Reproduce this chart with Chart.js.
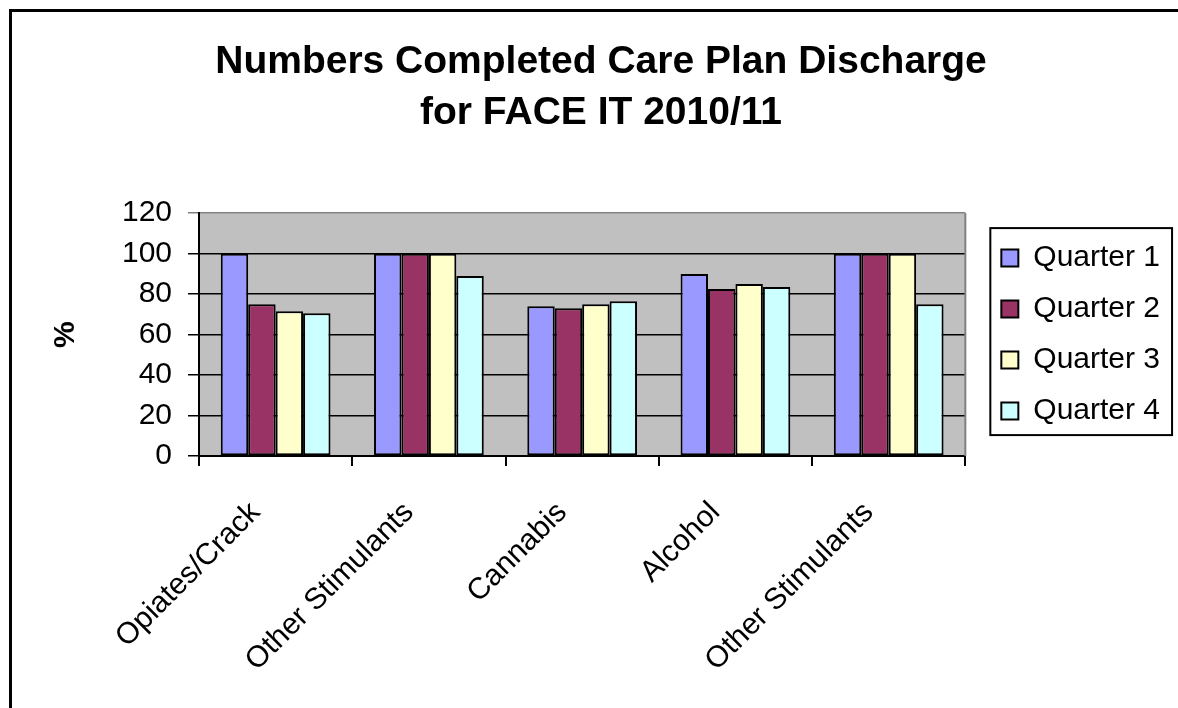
<!DOCTYPE html>
<html>
<head>
<meta charset="utf-8">
<script src="https://cdn.jsdelivr.net/npm/chart.js@4"></script>
<style>
  html, body { margin: 0; padding: 0; background: #fff; overflow: hidden; }
  #wrap { position: relative; width: 1178px; height: 708px; }
  #frame { position: absolute; left: 9px; top: 9px; width: 1300px; height: 800px;
           border-left: 3px solid #000; border-top: 3px solid #000; }
  #chart { position: absolute; left: 0; top: 0; }
</style>
</head>
<body>
<div id="wrap">
  <div id="frame"></div>
  <canvas id="chart" width="1178" height="708"></canvas>
</div>
<script>
// data
const categories = ['Opiates/Crack', 'Other Stimulants', 'Cannabis', 'Alcohol', 'Other Stimulants'];
const quarter1 = [100, 100, 74, 90, 100];
const quarter2 = [75, 100, 73, 82.5, 100];
const quarter3 = [71.5, 100, 75, 85, 100];
const quarter4 = [70.5, 89, 76.5, 83.5, 75];
const yTicks = [0, 20, 40, 60, 80, 100, 120];

Chart.defaults.font.family = "'Liberation Sans', Arial, sans-serif";
Chart.defaults.color = '#000';

// grey plot area + grey right edge
const plotBackground = {
    id: 'plotBackground',
    beforeDraw(chart) {
        const a = chart.chartArea;
        const ctx = chart.ctx;
        ctx.save();
        ctx.fillStyle = '#C0C0C0';
        ctx.fillRect(a.left, a.top, a.right - a.left, a.bottom - a.top);
        ctx.restore();
    },
    afterDatasetsDraw(chart) {
        const a = chart.chartArea;
        const ctx = chart.ctx;
        ctx.save();
        ctx.strokeStyle = '#808080';
        ctx.lineWidth = 2;
        ctx.beginPath();
        ctx.moveTo(a.right, a.top);
        ctx.lineTo(a.right, a.bottom);
        ctx.stroke();
        ctx.restore();
    }
};

// black box round the legend
const legendBorder = {
    id: 'legendBorder',
    afterDraw(chart) {
        const lg = chart.legend;
        if (!lg || !lg.legendHitBoxes.length) return;
        const hb = lg.legendHitBoxes;
        const last = hb[hb.length - 1];
        let right = 0;
        hb.forEach(h => { right = Math.max(right, h.left + h.width); });
        const ctx = chart.ctx;
        ctx.save();
        ctx.strokeStyle = '#000';
        ctx.lineWidth = 2;
        const x0 = hb[0].left - 11, x1 = right + 12;
        const y0 = hb[0].top - 15, y1 = last.top + last.height + 9;
        ctx.strokeRect(x0, y0, x1 - x0, y1 - y0);
        ctx.restore();
    }
};

function makeSet(label, data, color) {
    return {
        label: label,
        data: data,
        backgroundColor: color,
        borderColor: '#000',
        borderWidth: 2,
        borderSkipped: false,
        categoryPercentage: 0.716,
        barPercentage: 1.0
    };
}

new Chart(document.getElementById('chart'), {
    type: 'bar',
    data: {
        labels: categories,
        datasets: [
            makeSet('Quarter 1', quarter1, '#9999FF'),
            makeSet('Quarter 2', quarter2, '#993366'),
            makeSet('Quarter 3', quarter3, '#FFFFCC'),
            makeSet('Quarter 4', quarter4, '#CCFFFF')
        ]
    },
    options: {
        responsive: false,
        animation: false,
        layout: { padding: { left: 32, right: 8, top: 0, bottom: 0 } },
        plugins: {
            title: {
                display: true,
                text: ['Numbers Completed Care Plan Discharge', 'for FACE IT 2010/11'],
                color: '#000',
                font: { size: 39, weight: 'bold', lineHeight: 1.31 },
                padding: { top: 37, bottom: 74 }
            },
            legend: {
                position: 'right',
                fullSize: false,
                labels: {
                    boxWidth: 17,
                    boxHeight: 17,
                    padding: 21,
                    color: '#000',
                    font: { size: 30 }
                }
            },
            tooltip: { enabled: false }
        },
        scales: {
            x: {
                grid: {
                    offset: true,
                    drawOnChartArea: false,
                    tickLength: 10,
                    color: '#000',
                    lineWidth: 2
                },
                border: { color: '#000', width: 2 },
                ticks: {
                    autoSkip: false,
                    minRotation: 45,
                    maxRotation: 45,
                    padding: 29,
                    labelOffset: -20,
                    font: { size: 30 }
                },
                afterFit: (s) => { s.height = 252; }
            },
            y: {
                min: 0,
                max: 120,
                afterBuildTicks: (s) => { s.ticks = yTicks.map(v => ({ value: v })); },
                grid: {
                    tickLength: 11,
                    lineWidth: 1.5,
                    color: (ctx) => (ctx.tick && ctx.tick.value === 120 ? '#808080' : '#000')
                },
                border: { color: '#000', width: 2 },
                ticks: { padding: 16, font: { size: 30 } },
                title: {
                    display: true,
                    text: '%',
                    font: { size: 30, weight: 'bold', lineHeight: 1.2 },
                    padding: { top: 16, bottom: 0 }
                },
                afterFit: (s) => { s.width = 167; }
            },
            yR: {
                type: 'linear',
                position: 'right',
                grid: { display: false },
                border: { display: false },
                ticks: { display: false },
                afterFit: (s) => { s.width = 15; }
            }
        }
    },
    plugins: [plotBackground, legendBorder]
});
</script>
</body>
</html>
